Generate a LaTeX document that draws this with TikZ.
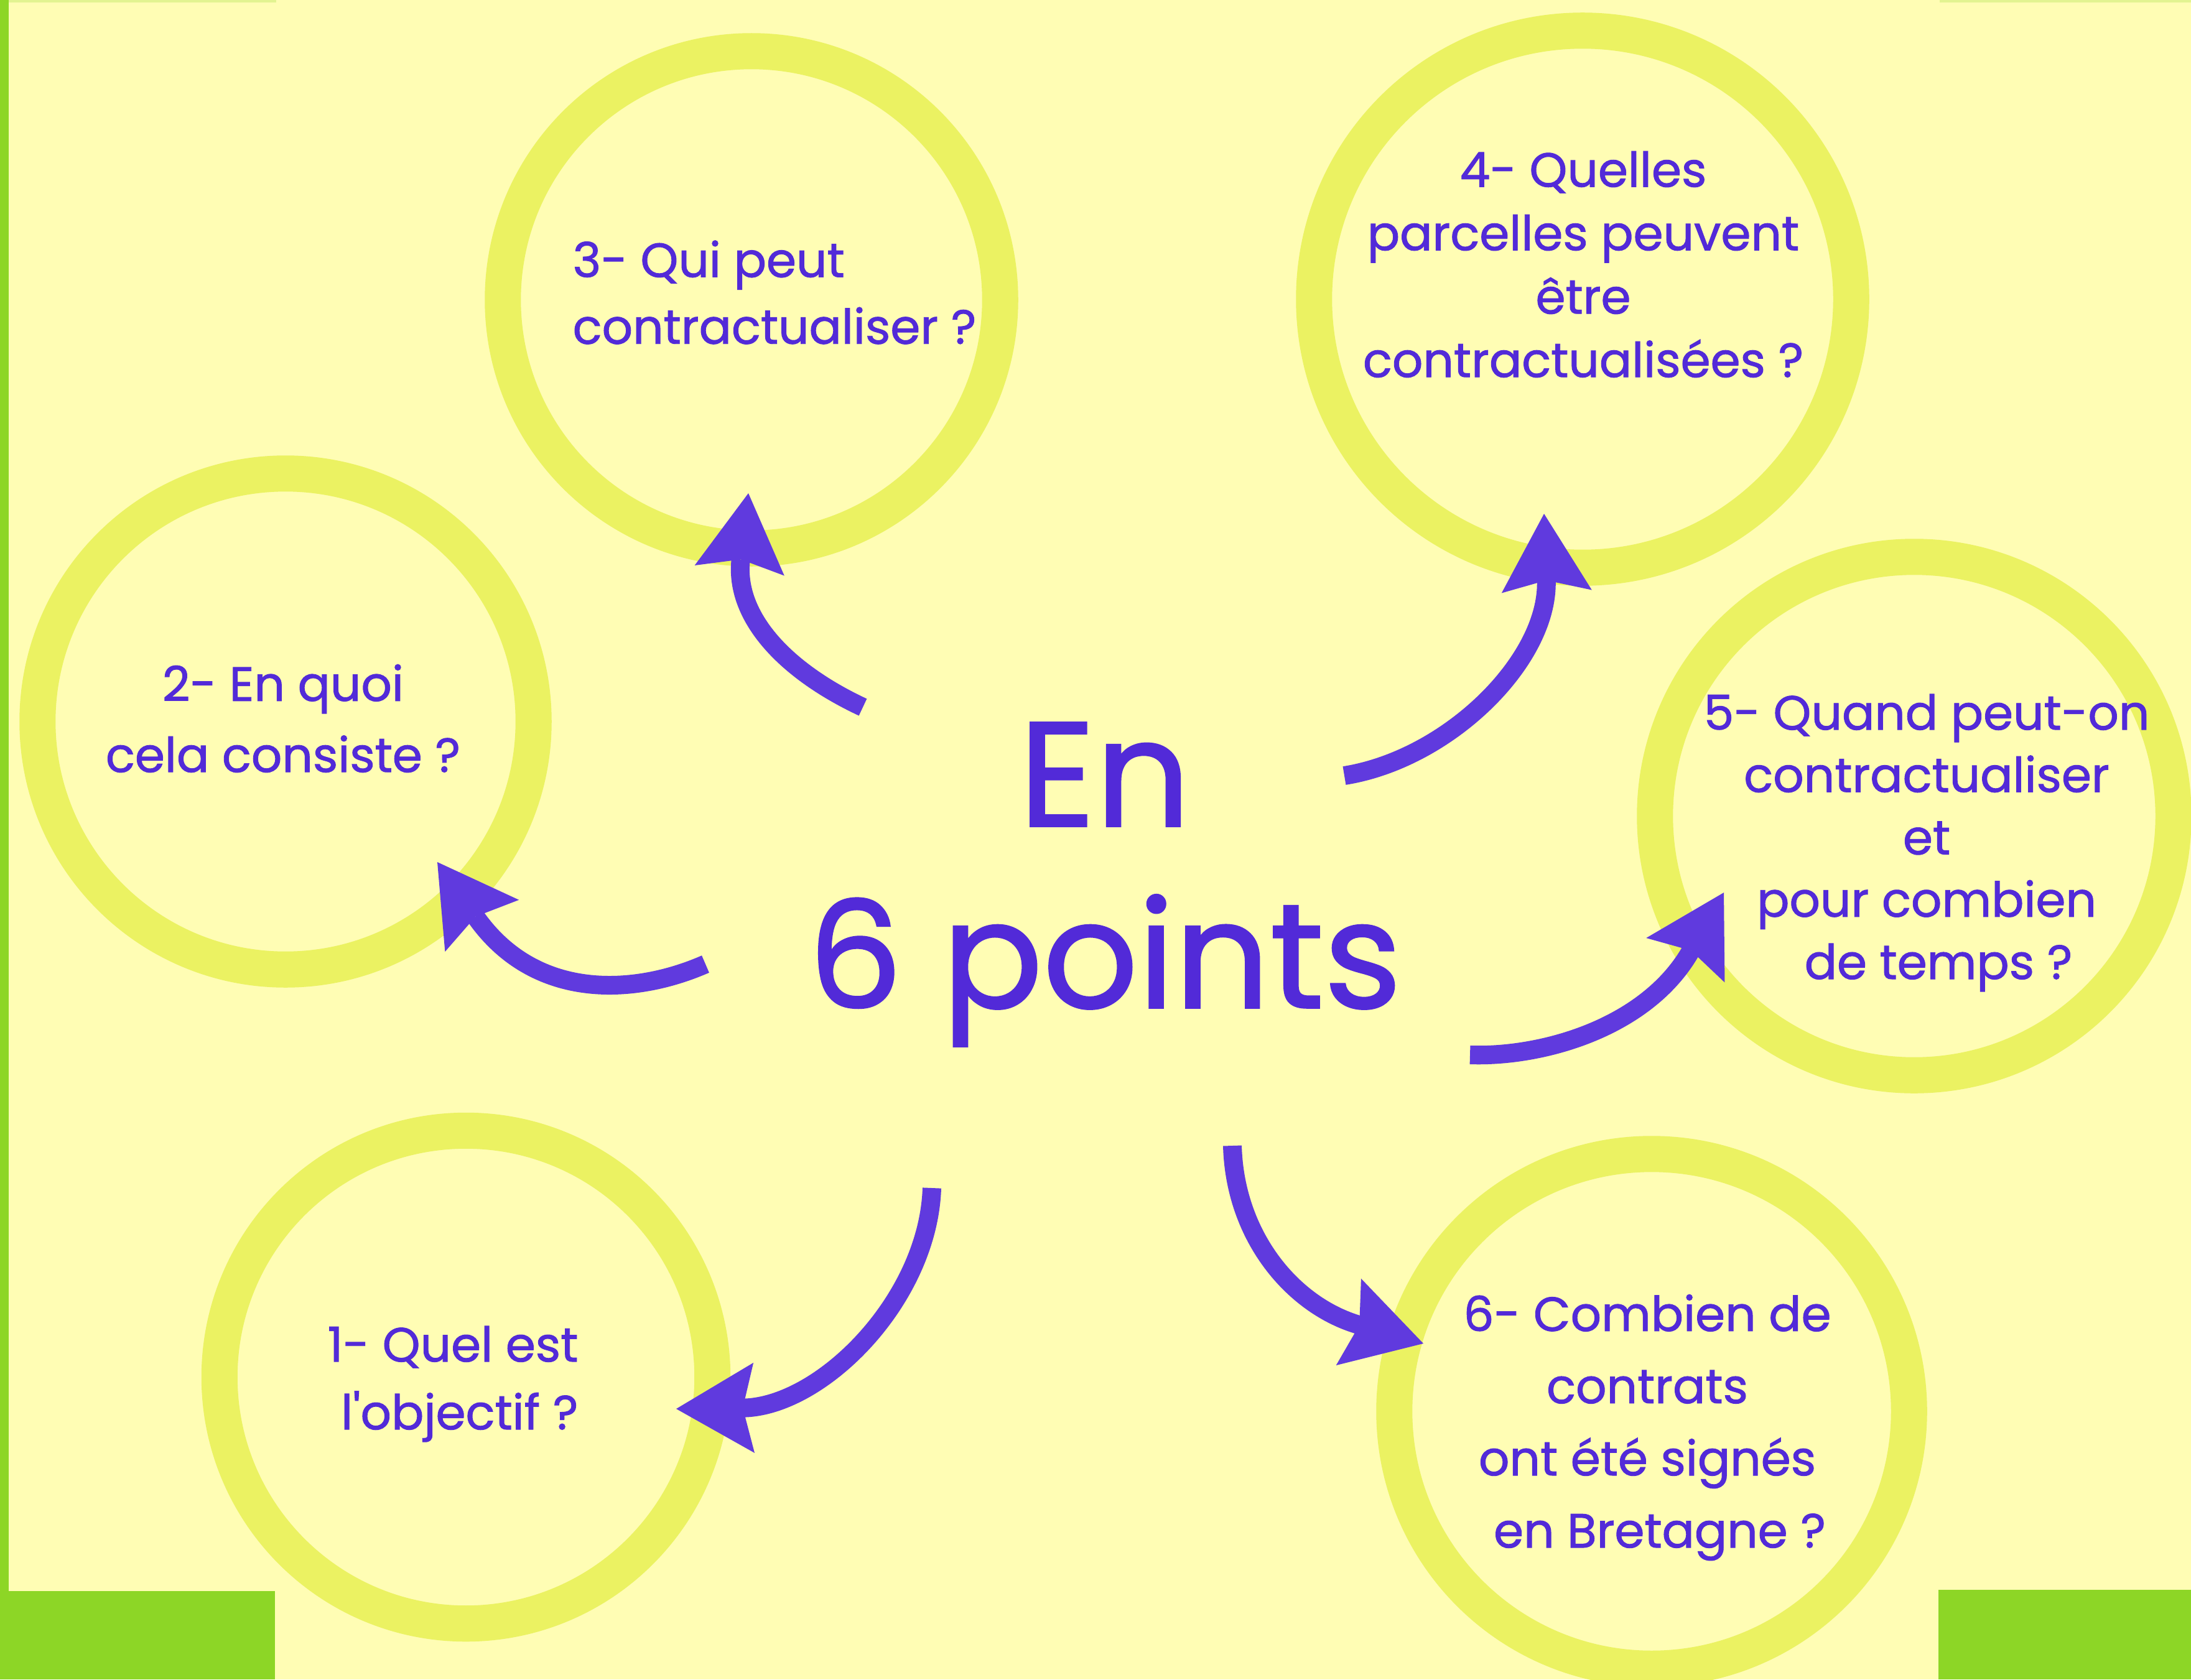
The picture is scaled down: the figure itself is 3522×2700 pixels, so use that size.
\documentclass[tikz,border=0pt]{standalone}
\usepackage{fontspec}
\setmainfont{Poppins}
\newfontfamily\handfont{Poppins}[FakeBold=1.2]
\usetikzlibrary{arrows.meta}
\definecolor{bgyellow}{RGB}{255,253,180}
\definecolor{ringyellow}{RGB}{235,242,98}
\definecolor{leafgreen}{RGB}{141,214,38}
\definecolor{inkpurple}{RGB}{82,42,216}
\definecolor{arrowpurple}{RGB}{96,58,222}
\tikzset{
  ring/.style={circle, draw=ringyellow, line width=0.58cm, inner sep=0pt, minimum size=#1},
  question/.style={text=inkpurple, inner sep=0pt, font=\handfont\fontsize{22pt}{#1}\selectfont},
  question/.default=30pt,
  bigtitle/.style={text=inkpurple, inner sep=0pt, align=center, font=\handfont\fontsize{68pt}{83pt}\selectfont},
  flowarrow/.style={draw=arrowpurple, line width=0.3cm, line cap=butt,
    -{Stealth[length=12.5mm, width=14.5mm, inset=1.8mm, line width=0pt]}},
}
\begin{document}
\begin{tikzpicture}[x=0.01cm, y=-0.01cm]
\useasboundingbox (0,0) rectangle (3522,2700);
% background and green frame pieces
\fill[bgyellow] (0,0) rectangle (3522,2700);
\fill[leafgreen!25!bgyellow] (0,0) rectangle (444,4);
\fill[leafgreen!25!bgyellow] (3118,0) rectangle (3522,4);
\fill[leafgreen] (0,0) rectangle (14,2700);
\fill[leafgreen] (0,2558) rectangle (442,2700);
\fill[leafgreen] (3116,2556) rectangle (3522,2700);

% rings
\node[ring=7.92cm] (c1) at (749,2214) {};
\node[ring=7.97cm] (c2) at (459,1160) {};
\node[ring=7.99cm] (c3) at (1208,482) {};
\node[ring=8.63cm] (c4) at (2544,481) {};
\node[ring=8.33cm] (c5) at (3077,1312) {};
\node[ring=8.27cm] (c6) at (2655,2269) {};

% texts
\node[question=31pt, align=right] (t1) at (728,2225) {1- Quel est\\l\textquotesingle objectif ?};
\node[question=32.5pt, align=center] (t2) at (455,1155) {2- En quoi\\cela consiste ?};
\node[question=30.5pt, align=left] (t3) at (1245,470) {3- Qui peut\\contractualiser ?};
\node[question=29pt, align=center] (t4) at (2545,425) {4- Quelles\\parcelles peuvent\\être\\contractualisées ?};
\node[question=28.5pt, align=center] (t5) at (3097,1355) {5- Quand peut-on\\contractualiser\\et\\pour combien\\\hspace*{0.38cm}de temps ?};
\node[question=33pt, align=center] (t6) at (2648,2295) {6- Combien de\\contrats\\ont été signés\\\hspace*{0.4cm}en Bretagne ?};
\node[bigtitle] (title) at (1776,1422) {En\\6 points};

% arrow ends
\coordinate (a1s) at (1498,1910); \coordinate (a1e) at (1087,2265);
\coordinate (a2s) at (1134,1550); \coordinate (a2e) at (703,1386);
\coordinate (a3s) at (1387,1137); \coordinate (a3e) at (1203,793);
\coordinate (a4s) at (2161,1247); \coordinate (a4e) at (2482,826);
\coordinate (a5s) at (2363,1696); \coordinate (a5e) at (2771,1435);
\coordinate (a6s) at (1981,1842); \coordinate (a6e) at (2288,2160);

\draw[flowarrow] (a1s) .. controls (1492,2090) and (1320,2262) .. (a1e);
\draw[flowarrow] (a2s) .. controls (1020,1600) and (860,1610) .. (a2e);
\draw[flowarrow] (a3s) .. controls (1265,1080) and (1180,993) .. (a3e);
\draw[flowarrow] (a4s) .. controls (2330,1220) and (2490,1060) .. (a4e);
\draw[flowarrow] (a5s) .. controls (2480,1700) and (2648,1652) .. (a5e);
\draw[flowarrow] (a6s) .. controls (1985,1990) and (2080,2100) .. (a6e);
\end{tikzpicture}
\end{document}
